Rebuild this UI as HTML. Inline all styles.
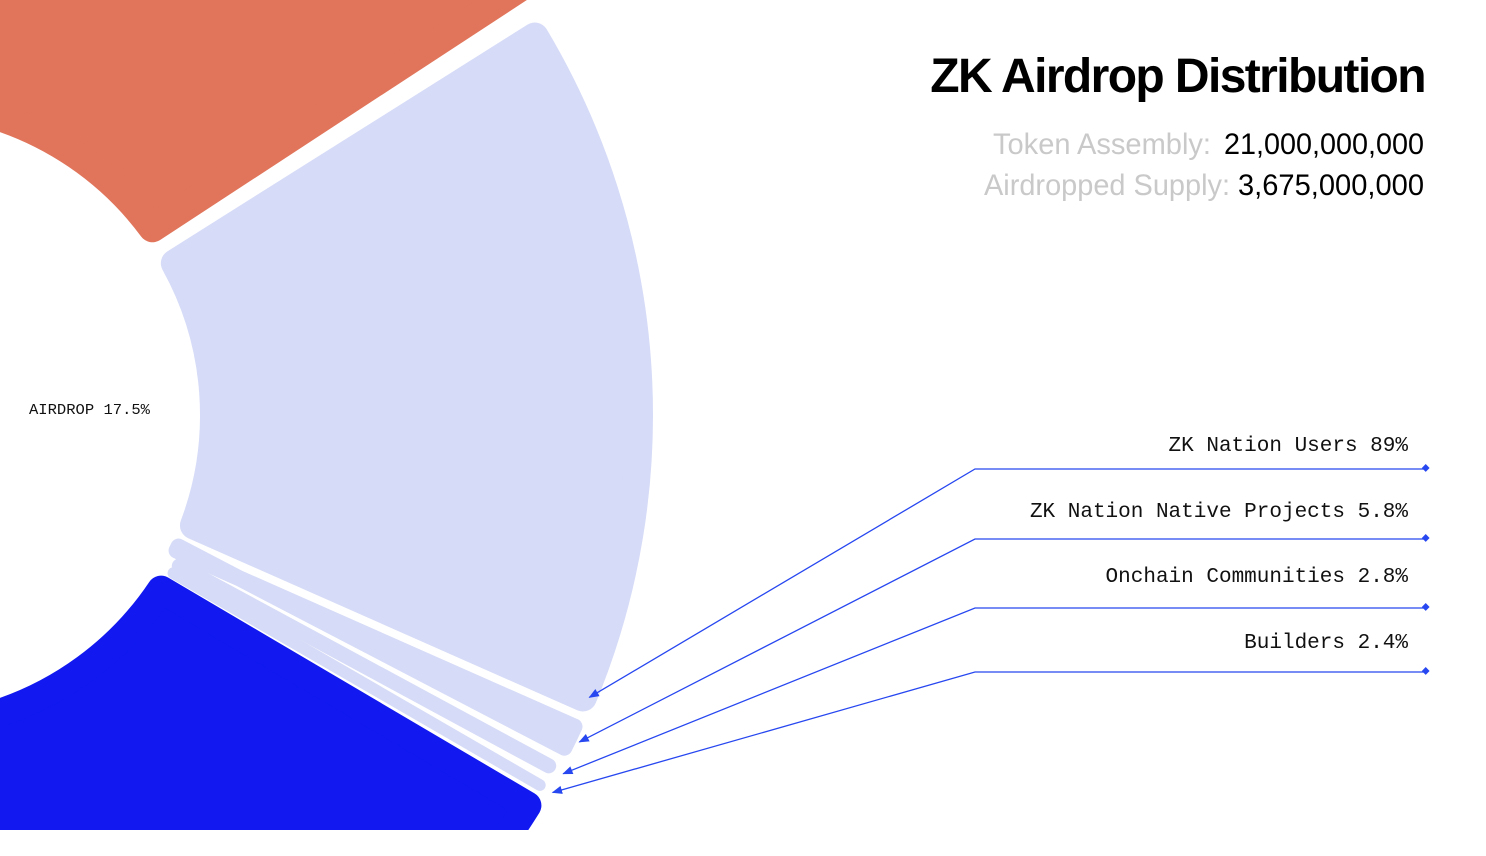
<!DOCTYPE html>
<html><head><meta charset="utf-8"><style>
html,body{margin:0;padding:0;background:#fff;width:1486px;height:856px;overflow:hidden}
svg{display:block;overflow:hidden}
</style></head><body>
<svg id="chart" width="1486" height="856" viewBox="0 0 1486 856" xmlns="http://www.w3.org/2000/svg">
<defs>
<clipPath id="clip"><rect x="0" y="0" width="1486" height="830"/></clipPath>
<marker id="arr" viewBox="0 0 10 10" refX="9" refY="5" markerWidth="8" markerHeight="8" orient="auto-start-reverse"><path d="M0,1 L10,5 L0,9 z" fill="#2747f0"/></marker>
</defs>
<g id="donut" clip-path="url(#clip)"></g>
<g id="leaders"></g>
<text x="1425" y="92" text-anchor="end" font-family="Liberation Sans, sans-serif" font-weight="bold" font-size="48" letter-spacing="-1.6" fill="#000">ZK Airdrop Distribution</text>
<text x="993" y="154" font-family="Liberation Sans, sans-serif" font-size="30" fill="#c9c9c9" textLength="218" lengthAdjust="spacingAndGlyphs">Token Assembly:</text>
<text x="1224" y="154" font-family="Liberation Sans, sans-serif" font-size="30" fill="#000" textLength="200" lengthAdjust="spacingAndGlyphs">21,000,000,000</text>
<text x="984" y="195" font-family="Liberation Sans, sans-serif" font-size="30" fill="#c9c9c9" textLength="246" lengthAdjust="spacingAndGlyphs">Airdropped Supply:</text>
<text x="1238" y="195" font-family="Liberation Sans, sans-serif" font-size="30" fill="#000" textLength="186" lengthAdjust="spacingAndGlyphs">3,675,000,000</text>
<text x="29" y="414" font-family="Liberation Mono, monospace" font-size="15" fill="#111" textLength="121" lengthAdjust="spacingAndGlyphs">AIRDROP 17.5%</text>
</svg>
<script>
const categories = ["ZK Nation Users", "ZK Nation Native Projects", "Onchain Communities", "Builders"];
const shares = [89, 5.8, 2.8, 2.4];
const airdropPercent = 17.5;
const labelRows = [451, 517, 582, 648];
const lineRows = [469, 539, 608, 672];

const NS = "http://www.w3.org/2000/svg";
const cx = -100, cy = 415, r0 = 300, r1 = 753, GAP = 8;
const donut = document.getElementById('donut');
const leaders = document.getElementById('leaders');
const rad = d => d * Math.PI / 180;
const pt = (a, r) => [cx + r * Math.cos(rad(a)), cy + r * Math.sin(rad(a))];

function sector(a0, a1, ri, ro, rc, color, name) {
  const d = GAP / 2 + rc;
  const ai0 = a0 + Math.asin(d / (ri + rc)) * 180 / Math.PI;
  const ai1 = a1 - Math.asin(d / (ri + rc)) * 180 / Math.PI;
  const ao0 = a0 + Math.asin(d / (ro - rc)) * 180 / Math.PI;
  const ao1 = a1 - Math.asin(d / (ro - rc)) * 180 / Math.PI;
  const R0 = ri + rc, R1 = ro - rc;
  const p1 = pt(ai0, R0), p2 = pt(ao0, R1), p3 = pt(ao1, R1), p4 = pt(ai1, R0);
  const large = (ao1 - ao0) > 180 ? 1 : 0;
  const dstr = `M${p1} L${p2} A${R1},${R1} 0 ${large} 1 ${p3} L${p4} A${R0},${R0} 0 ${large} 0 ${p1} Z`;
  const p = document.createElementNS(NS, 'path');
  p.setAttribute('d', dstr);
  p.setAttribute('fill', color);
  p.setAttribute('stroke', color);
  p.setAttribute('stroke-width', rc * 2);
  p.setAttribute('stroke-linejoin', 'round');
  
  
  donut.appendChild(p);
}
function pill(a0, a1, ri, ro, color, name) {
  const am = (a0 + a1) / 2;
  const w = Math.max(6, rad(a1 - a0) * ro - GAP);
  const s = pt(am, ri + w / 2), e = pt(am, ro - w / 2);
  const l = document.createElementNS(NS, 'line');
  l.setAttribute('x1', s[0]); l.setAttribute('y1', s[1]);
  l.setAttribute('x2', e[0]); l.setAttribute('y2', e[1]);
  l.setAttribute('stroke', color);
  l.setAttribute('stroke-width', w);
  l.setAttribute('stroke-linecap', 'round');
  
  
  donut.appendChild(l);
}

const span = airdropPercent / 100 * 360;
const start = -span / 2 - 0.7;
sector(-120, start - 1.0, r0, r1 + 40, 14, '#e0755b', 'other-allocation-orange');
sector(start + span - 0.3, 120, r0, r1, 14, '#1119f0', 'other-allocation-blue');

let a = start;
const ends = [];
shares.forEach((s, i) => {
  const a1 = a + s / 100 * span;
  const name = 'segment-' + categories[i].toLowerCase().replace(/\s+/g, '-');
  if (i === 0) sector(a, a1, r0, r1, 14, '#d6dbf7', name);
  else if (i === 1) sector(a, a1, r0, r1 - 2, 8, '#d6dbf7', name);
  else pill(a, a1, r0 + 10, r1 - 8, '#d6dbf7', name);
  const am = (a + a1) / 2;
  ends.push(i === 0 ? pt(a1 - 1.6, r1 - 8) : pt(am, r1 + 1));
  a = a1;
});

categories.forEach((c, i) => {
  const y = lineRows[i];
  const e = ends[i];
  const pl = document.createElementNS(NS, 'polyline');
  pl.setAttribute('points', `1426,${y} 975,${y} ${e[0]},${e[1]}`);
  pl.setAttribute('fill', 'none');
  pl.setAttribute('stroke', '#2747f0');
  pl.setAttribute('stroke-width', 1.3);
  pl.setAttribute('marker-end', 'url(#arr)');
  
  
  leaders.appendChild(pl);
  const dot = document.createElementNS(NS, 'rect');
  dot.setAttribute('x', 1422); dot.setAttribute('y', y - 4);
  dot.setAttribute('width', 5.5); dot.setAttribute('height', 5.5);
  dot.setAttribute('transform', `rotate(45 1425 ${y})`);
  dot.setAttribute('fill', '#2747f0');
  
  
  leaders.appendChild(dot);
  const t = document.createElementNS(NS, 'text');
  t.setAttribute('x', 1408); t.setAttribute('y', labelRows[i]);
  t.setAttribute('text-anchor', 'end');
  t.setAttribute('font-family', 'Liberation Mono, monospace');
  t.setAttribute('font-size', '21');
  t.setAttribute('fill', '#111');
  t.textContent = c + ' ' + shares[i] + '%';
  
  
  leaders.appendChild(t);
});
</script>
</body></html>
